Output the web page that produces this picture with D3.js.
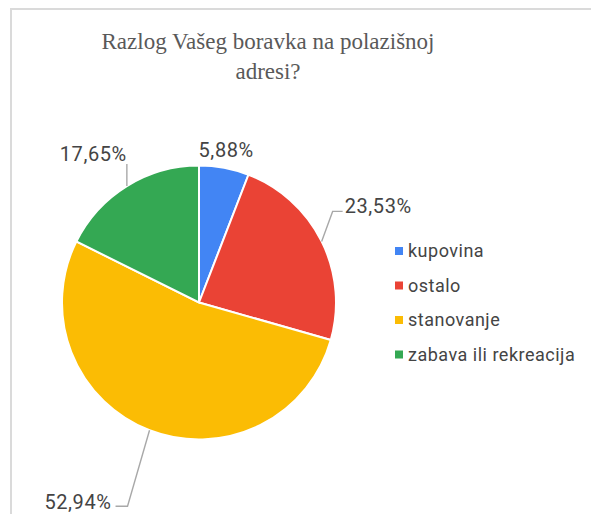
<!DOCTYPE html>
<html>
<head>
<meta charset="utf-8">
<script src="https://cdn.jsdelivr.net/npm/d3@7"></script>
<style>
  body { margin: 0; background: #fff; }
  svg { display: block; }
</style>
</head>
<body>
<div id="chart"></div>
<script>
// chart data
var categories = ["kupovina", "ostalo", "stanovanje", "zabava ili rekreacija"];
var values = [5.88, 23.53, 52.94, 17.65];
var labels = ["5,88%", "23,53%", "52,94%", "17,65%"];
var colors = ["#4285f4", "#ea4335", "#fbbc04", "#34a853"];
var titleLines = ["Razlog Vašeg boravka na polazišnoj", "adresi?"];

var svgWidth = 591;
var svgHeight = 514;

var cx = 199, cy = 302.5, radius = 137;

var svg = d3.select("#chart")
  .append("svg")
  .attr("width", svgWidth)
  .attr("height", svgHeight);

// frame (only top and left edges are visible)
svg.append("rect")
  .attr("x", 11)
  .attr("y", 9)
  .attr("width", 700)
  .attr("height", 700)
  .attr("fill", "none")
  .attr("stroke", "#dadada")
  .attr("stroke-width", 2);

// title
svg.append("text")
  .attr("x", 268)
  .attr("y", 49)
  .attr("text-anchor", "middle")
  .attr("font-family", "'Liberation Serif', 'Times New Roman', serif")
  .attr("font-size", 23)
  .attr("fill", "#595959")
  .selectAll("tspan")
  .data(titleLines)
  .enter()
  .append("tspan")
  .attr("x", 268)
  .attr("dy", (d, i) => i === 0 ? 0 : 30)
  .text(d => d);

var pie = d3.pie().sort(null).value(d => d);
var arcs = pie(values);

var arc = d3.arc().innerRadius(0).outerRadius(radius);

var chart = svg.append("g")
  .attr("transform", `translate(${cx}, ${cy})`);

chart.selectAll("path")
  .data(arcs)
  .enter()
  .append("path")
  .attr("d", arc)
  .attr("fill", (d, i) => colors[i])
  .attr("stroke", "#fff")
  .attr("stroke-width", 2);

// point on the rim at the middle of each slice
function rim(d) {
  var a = (d.startAngle + d.endAngle) / 2;
  return [radius * Math.sin(a), -radius * Math.cos(a)];
}

// leader line offsets per slice (elbow, end) relative to the rim point
var leaders = [
  null,
  [[11, -30], [21, -30]],
  [[-22, 76], [-34, 76]],
  [[0, -22], [0, -22]]
];
var labelShift = [[2, -11], [23, -28], [-38, 79], [0, -25]];
var anchors = ["middle", "start", "end", "end"];

var lineGen = d3.line();

arcs.forEach(function(d, i) {
  var p = rim(d);
  if (leaders[i]) {
    var pts = [p].concat(leaders[i].map(o => [p[0] + o[0], p[1] + o[1]]));
    chart.append("path")
      .attr("d", lineGen(pts))
      .attr("fill", "none")
      .attr("stroke", "#a8a8a8")
      .attr("stroke-width", 1.4);
  }
  chart.append("text")
    .attr("x", p[0] + labelShift[i][0])
    .attr("y", p[1] + labelShift[i][1])
    .attr("text-anchor", anchors[i])
    .attr("font-family", "Roboto, Arial, sans-serif")
    .attr("font-size", 20)
    .attr("letter-spacing", 0.6)
    .attr("fill", "#444")
    .text(labels[i]);
});

// legend
var legend = svg.append("g")
  .attr("transform", "translate(395, 251)");

var item = legend.selectAll("g")
  .data(categories)
  .enter()
  .append("g")
  .attr("transform", (d, i) => `translate(0, ${i * 34.5})`);

item.append("rect")
  .attr("x", 0)
  .attr("y", -4)
  .attr("width", 8)
  .attr("height", 8)
  .attr("fill", (d, i) => colors[i]);

item.append("text")
  .attr("x", 13)
  .attr("y", 6)
  .attr("font-family", "Roboto, Arial, sans-serif")
  .attr("font-size", 18)
  .attr("letter-spacing", 0.5)
  .attr("fill", "#444")
  .text(d => d);
</script>
</body>
</html>
